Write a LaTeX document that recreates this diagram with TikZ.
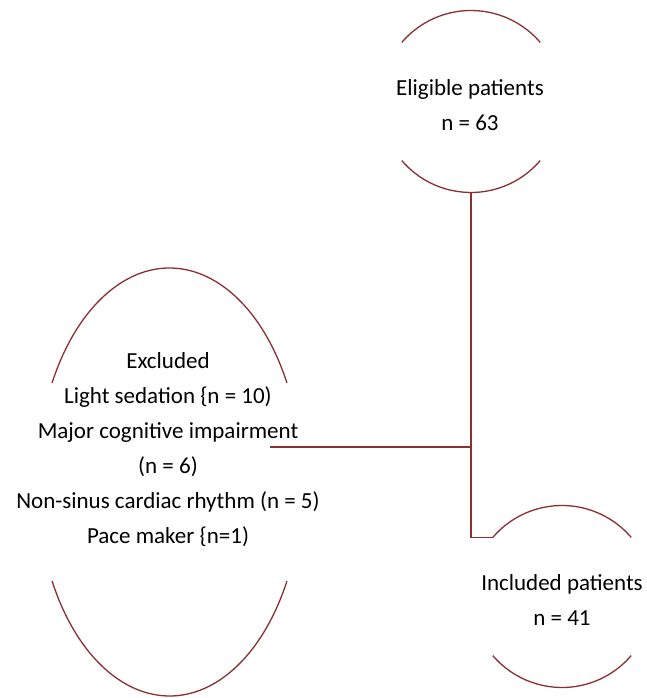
\documentclass[tikz,border=0pt]{standalone}
\usepackage{fontspec}
\setmainfont{Carlito}
\definecolor{flowred}{RGB}{139,48,48}
\tikzset{
  rim/.style={draw=flowred,line width=1.3pt},
  flowtext/.style={align=center,inner sep=0pt,font=\fontsize{23}{35}\selectfont}
}
\begin{document}
\begin{tikzpicture}[x=1pt,y=1pt]
  \useasboundingbox (0,0) rectangle (646,698);

  \node[flowtext] (elig) at (470,592.5) {Eligible patients\\n = 63};
  \coordinate (eligc) at (471,596.5);
  \draw[rim] (eligc) ++(40.5:91) arc[start angle=40.5,end angle=139.5,radius=91];
  \draw[rim] (eligc) ++(220.5:91) arc[start angle=220.5,end angle=319.5,radius=91];
  \coordinate (eligb) at (471,505.5);

  \node[flowtext] (excl) at (168,248) {Excluded\\Light sedation {\{}n = 10)\\Major cognitive impairment\\(n = 6)\\Non-sinus cardiac rhythm (n = 5)\\Pace maker {\{}n=1)};
  \coordinate (exclc) at (169.5,216);
  \draw[rim] (exclc) ++(117.4,99.1) arc[start angle=27.6,end angle=152.4,x radius=132.5,y radius=214];
  \draw[rim] (exclc) ++(-117.4,-99.1) arc[start angle=207.6,end angle=332.4,x radius=132.5,y radius=214];
  \coordinate (exclr) at (270,251);

  \node[flowtext] (incl) at (562,98) {Included patients\\n = 41};
  \coordinate (inclc) at (562,101.5);
  \draw[rim] (inclc) ++(139.5:91) coordinate (inclw) arc[start angle=139.5,end angle=40.5,radius=91];
  \draw[rim] (inclc) ++(220.5:91) arc[start angle=220.5,end angle=319.5,radius=91];

  % connectors
  \draw[rim] (eligb) |- (inclw);
  \draw[rim] (exclr) -- (exclr -| eligb);
\end{tikzpicture}
\end{document}
